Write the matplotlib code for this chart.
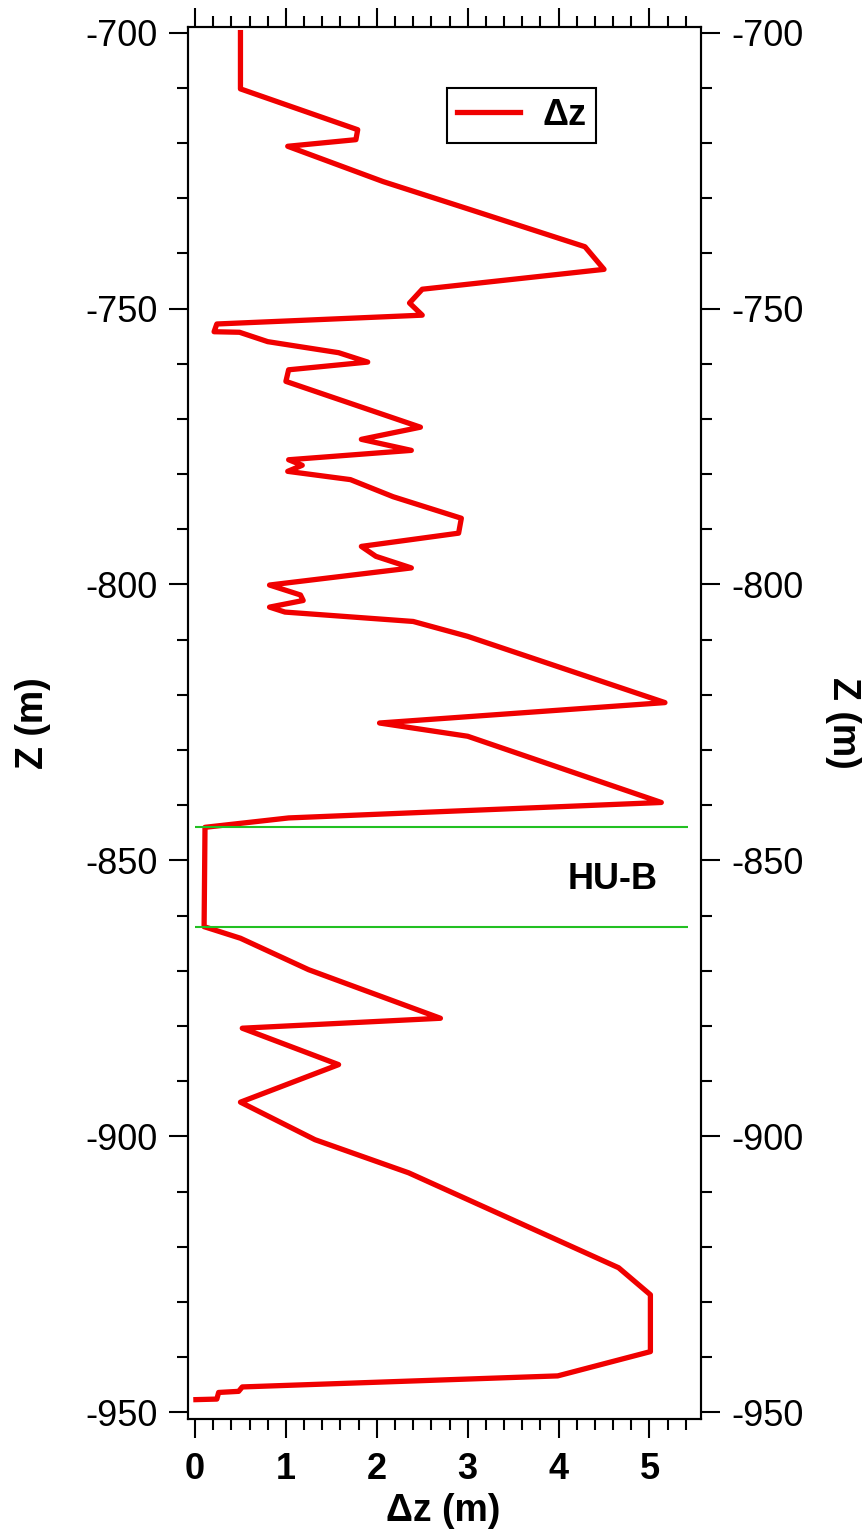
import matplotlib

matplotlib.use("Agg")
import matplotlib.pyplot as plt
from matplotlib.ticker import MultipleLocator

# depth profile (m) and displacement dz (m)
depth = [-700.0, -710.2, -717.6, -719.4, -720.6, -727.0, -731.5, -738.8, -742.9,
         -746.5, -749.0, -751.2, -752.8, -754.2, -754.3, -756.0, -758.0, -759.7,
         -761.1, -763.2, -771.5, -773.7, -775.7, -777.4, -778.4, -779.5, -781.0,
         -784.1, -788.0, -790.7, -793.1, -794.9, -797.0, -800.1, -801.9, -802.9,
         -804.1, -805.0, -806.7, -809.4, -821.4, -825.1, -827.5, -839.5, -842.3,
         -844.0, -862.0, -864.1, -869.8, -878.6, -880.4, -887.0, -893.8, -900.6,
         -906.6, -923.8, -928.7, -939.0, -943.4, -945.4, -946.2, -946.4, -947.6,
         -947.7]
dz = [0.50, 0.50, 1.79, 1.77, 1.02, 2.07, 2.92, 4.29, 4.50,
      2.50, 2.36, 2.50, 0.24, 0.21, 0.49, 0.80, 1.58, 1.90,
      1.03, 1.00, 2.48, 1.83, 2.38, 1.03, 1.18, 1.02, 1.71,
      2.18, 2.93, 2.90, 1.83, 1.99, 2.38, 0.82, 1.16, 1.19,
      0.82, 0.99, 2.40, 3.00, 5.17, 2.03, 3.00, 5.13, 1.03,
      0.11, 0.10, 0.50, 1.25, 2.70, 0.52, 1.58, 0.50, 1.32,
      2.35, 4.66, 5.01, 5.01, 3.99, 0.52, 0.48, 0.26, 0.24,
      0.01]

hu_b_bounds = [-844.0, -862.0]
hu_b_label = "HU-B"

plt.rcParams["font.family"] = ["Liberation Sans", "DejaVu Sans"]
plt.rcParams["axes.linewidth"] = 1.5
plt.rcParams["axes.unicode_minus"] = False

fig = plt.figure(figsize=(8.66, 15.33), dpi=100)
ax = fig.add_axes([0.2171, 0.0744, 0.5924, 0.9083])

ax.plot(dz, depth, color="#f00000", lw=3.8, label="Δz")
ax.hlines(hu_b_bounds, 0, 5.42, color="#22c022", lw=1.5)
ax.text(4.59, -853.5, hu_b_label, ha="center", va="center",
        fontsize=26, fontweight="bold")

ax.set_xlim(-0.077, 5.567)
ax.set_ylim(-951.2, -698.9)
ax.xaxis.set_major_locator(MultipleLocator(1))
ax.xaxis.set_minor_locator(MultipleLocator(0.2))
ax.yaxis.set_major_locator(MultipleLocator(50))
ax.yaxis.set_minor_locator(MultipleLocator(10))
ax.tick_params(which="both", direction="out", top=True, width=1.5, labelsize=26)
ax.tick_params(which="major", length=13.7, pad=8)
ax.tick_params(which="minor", length=7.6)
ax.tick_params(axis="x", which="major", pad=10)
for lab in ax.get_xticklabels():
    lab.set_fontweight("bold")

ax2 = ax.twinx()
ax2.set_ylim(ax.get_ylim())
ax2.yaxis.set_major_locator(MultipleLocator(50))
ax2.yaxis.set_minor_locator(MultipleLocator(10))
ax2.tick_params(which="both", direction="out", width=1.5, labelsize=26)
ax2.tick_params(which="major", length=13.7, pad=8)
ax2.tick_params(which="minor", length=7.6)

ax.set_xlabel("Δz (m)", fontsize=27, fontweight="bold")
ax.xaxis.set_label_coords(0.498, -0.053)
ax.set_ylabel("Z (m)", fontsize=27, fontweight="bold")
ax.yaxis.set_label_coords(-0.267, 0.5)
ax2.set_ylabel("Z (m)", fontsize=27, fontweight="bold", rotation=-90, va="bottom")
ax2.yaxis.set_label_coords(1.242, 0.5)

leg = ax.legend(loc="upper left", bbox_to_anchor=(0.505, 0.956), borderaxespad=0,
                fancybox=False, edgecolor="black", framealpha=1,
                prop={"size": 26, "weight": "bold"}, handlelength=1.75,
                handletextpad=0.6, borderpad=0.28)
leg.get_frame().set_linewidth(1.5)

fig.savefig("out.png", dpi=100)
